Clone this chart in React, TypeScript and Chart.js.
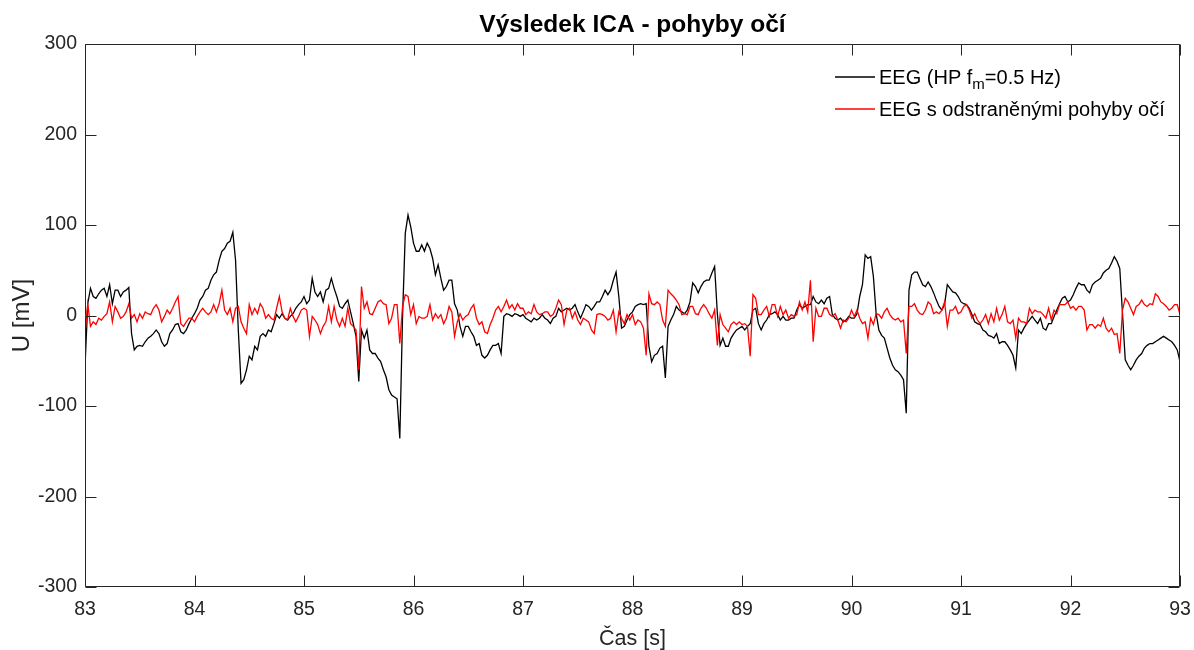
import React, { useEffect, useRef } from "react";
import { Chart, registerables } from "chart.js";

Chart.register(...registerables);

// ---- data ----
const TITLE = "Výsledek ICA - pohyby očí";
const X_LABEL = "Čas [s]";
const Y_LABEL = "U [mV]";
const T_START = 83;
const T_STEP = 0.025;
const X_TICKS = [83, 84, 85, 86, 87, 88, 89, 90, 91, 92, 93];
const Y_TICKS = [-300, -200, -100, 0, 100, 200, 300];

// EEG (HP fm = 0.5 Hz), one row per second, sampled every 25 ms
const eegRaw = [
  -57, 13, 30, 21, 19, 24, 28, 30, 21, 34, 13, 28, 28, 21, 26, 28, 31, -20, -38, -34, -33, -34, -29, -25, -23, -20, -16, -20, -29, -34, -31, -20, -16, -10, -9, -18, -20, -16, -9, -3,
  2, 8, 17, 21, 28, 30, 39, 45, 48, 61, 71, 74, 80, 82, 92, 61, -16, -75, -71, -60, -45, -49, -34, -38, -23, -20, -23, -16, -18, -9, 1, -3, 2, -3, -5, -1, 2, 8, 12, 15,
  21, 13, 17, 41, 26, 21, 26, 15, 28, 30, 41, 30, 21, 10, 8, 13, 17, 4, -9, -23, -73, -16, -25, -16, -38, -42, -42, -47, -51, -60, -68, -82, -88, -90, -92, -136, -1, 91, 111, 98,
  80, 71, 71, 78, 71, 80, 74, 63, 45, 56, 41, 28, 32, 39, 39, 13, 6, -12, -23, -12, -12, -18, -23, -33, -31, -44, -47, -44, -38, -33, -33, -31, -42, -1, 2, 1, -1, 2, 1, -1,
  1, -3, -5, -7, -3, -5, -3, 1, -3, -5, -9, -3, -1, 8, 4, 6, 8, 6, 8, 12, 4, -3, 4, 12, 10, 6, 10, 15, 15, 21, 28, 23, 28, 39, 48, 21, -14, -12, -5, 1,
  4, 10, 12, 13, 12, 13, -34, -51, -44, -42, -36, -34, -69, -12, -5, 1, 10, 6, 4, 2, 6, 15, 36, 32, 25, 32, 37, 39, 39, 47, 54, 2, -33, -25, -34, -34, -25, -20, -16, -14,
  -12, -16, -12, -9, 6, 8, -9, -16, -9, -5, 1, 2, 4, 1, -5, -1, -5, -5, -3, -3, 6, 12, 8, 10, 12, 12, 21, 15, 13, 17, 13, 19, 21, 1, -3, -5, -3, -7, -5, -1,
  -3, -3, 2, 21, 34, 67, 63, 65, 43, 2, -16, -22, -25, -36, -47, -55, -60, -62, -66, -71, -108, 28, 45, 48, 48, 41, 34, 32, 37, 32, 25, 17, 10, 6, 12, 34, 30, 26, 25, 21,
  15, 13, 12, 8, 1, -7, -9, -10, -16, -18, -22, -23, -25, -20, -31, -29, -29, -33, -38, -44, -58, -16, -20, -14, -9, -5, -1, -5, -9, -3, -14, -16, -9, -9, -1, 6, 13, 19, 21, 15,
  17, 23, 30, 36, 34, 34, 28, 25, 34, 37, 39, 41, 47, 50, 52, 58, 65, 60, 52, 2, -49, -55, -60, -55, -49, -45, -42, -36, -33, -31, -31, -29, -27, -25, -23, -25, -27, -29, -33, -38,
  -51,
];

// EEG with eye movements removed
const eegClean = [
  -20, 13, -12, -7, -10, -3, -5, -1, 2, 15, -7, 10, 4, -3, -1, 4, 13, -3, 1, -7, 2, -3, 4, 2, 1, 8, 12, 6, -7, -1, 6, 2, 8, 15, 21, -9, -12, -7, -3, -3,
  -7, -1, 4, 8, 4, 1, 4, 12, 4, 13, 28, 6, 1, 8, -7, 8, 10, -7, -14, -20, 12, 1, 8, 2, 13, 8, -3, 1, -3, -5, 8, 21, 4, -3, -5, 8, -1, -7, -1, 6,
  8, 6, -23, -1, -5, -10, -20, -12, -7, 10, -7, 10, -5, -12, -3, -12, 8, -9, -12, -16, -60, 32, 8, 15, 2, 1, 8, 15, 17, 13, 12, -9, -3, 12, 12, -31, 10, 23, 21, 1,
  12, -9, -1, -3, -3, -1, 12, -5, 2, -3, 1, -9, -3, 10, 4, -23, -7, 2, -5, -1, 1, 8, 12, -3, -10, -7, -18, -20, -10, -3, 6, 10, 4, 10, 17, 8, 12, 6, 13, 8,
  8, 1, 4, 2, 12, 4, 1, 2, 4, 4, -1, 1, 8, 17, 12, -10, 6, 8, -3, 4, -5, -10, -3, -5, -7, -16, -20, 1, 2, 1, -1, -5, -3, 6, -18, 4, -3, -9, 1, -5,
  1, -10, -5, -7, -14, -44, 24, 13, 12, 15, 12, -5, -12, 28, 24, 21, 17, 12, 1, 2, 1, 10, 10, 2, 1, 8, 12, 8, 2, -3, 6, -33, 1, -10, -14, -18, -10, -7, -10, -7,
  -10, -9, -12, -45, 23, 19, 1, 1, 6, 10, -1, 12, 12, -1, 10, 1, 6, -3, 1, -1, 1, 15, 6, 15, 4, 39, -29, 8, -1, -1, 8, 8, 1, -1, 2, -5, -14, -5, -7, -3,
  6, -1, 6, -3, -9, -7, -25, -3, -10, 2, 1, -3, 4, 8, 1, -3, -5, -3, -7, -5, -42, 10, 10, 13, 6, 2, 1, 6, 15, 12, 2, 4, 2, 6, 15, -12, 6, 6, 10, 2,
  4, 10, 12, 6, -3, 2, -5, -9, -5, 1, -9, 2, -7, 8, -5, 1, 10, -7, -9, -5, -25, -3, -7, -7, -9, 8, 2, 6, 4, 4, 1, -3, 8, -5, 6, 2, 12, 12, 12, 15,
  8, 10, 6, 10, 10, 6, -16, -10, -10, -14, -10, -12, -3, -14, -18, -14, -21, -20, -42, 6, 19, 15, 8, 1, 10, 12, 17, 12, 10, 13, 12, 24, 21, 15, 13, 10, 6, 8, 12, 12,
  1,
];

// legend entries: [text, isSubscript] parts
const LEGEND_RAW = [["EEG (HP f", false], ["m", true], ["=0.5 Hz)", false]];
const LEGEND_CLEAN = [["EEG s odstraněnými pohyby očí", false]];

const FONT = "'Liberation Sans', Arial, Helvetica, sans-serif";
const AXIS_COLOR = "#262626";

const toPoints = (vals: number[]) =>
  vals.map((v, i) => ({ x: +(T_START + i * T_STEP).toFixed(3), y: v }));

const matlabAxes = {
  id: "matlabAxes",
  afterDatasetsDraw(chart: any) {
    const { ctx, chartArea: a, scales } = chart;
    const xs = scales.x;
    const ys = scales.y;
    const L = Math.round(a.left) + 0.5;
    const R = Math.round(a.right) - 0.5;
    const T = Math.round(a.top) + 0.5;
    const B = Math.round(a.bottom) - 0.5;
    const tl = 11;
    ctx.save();
    ctx.strokeStyle = AXIS_COLOR;
    ctx.lineWidth = 1;
    ctx.beginPath();
    ctx.moveTo(L, T);
    ctx.lineTo(R, T);
    ctx.lineTo(R, B);
    ctx.lineTo(L, B);
    ctx.closePath();
    X_TICKS.forEach((v) => {
      const p = Math.round(xs.getPixelForValue(v)) + 0.5;
      ctx.moveTo(p, B);
      ctx.lineTo(p, B - tl);
      ctx.moveTo(p, T);
      ctx.lineTo(p, T + tl);
    });
    Y_TICKS.forEach((v) => {
      const p = Math.round(ys.getPixelForValue(v)) + 0.5;
      ctx.moveTo(L, p);
      ctx.lineTo(L + tl, p);
      ctx.moveTo(R, p);
      ctx.lineTo(R - tl, p);
    });
    ctx.stroke();
    ctx.restore();
  },
  afterDraw(chart: any) {
    const { ctx, chartArea: a } = chart;
    ctx.save();
    // title centred over the axes box
    ctx.fillStyle = "#000";
    ctx.textAlign = "center";
    ctx.textBaseline = "alphabetic";
    ctx.font = `bold 24.5px ${FONT}`;
    ctx.fillText(TITLE, (a.left + a.right) / 2, a.top - 12.3);

    // legend
    const rows = [
      { parts: LEGEND_RAW, color: chart.data.datasets[1].borderColor, base: a.top + 39.5 },
      { parts: LEGEND_CLEAN, color: chart.data.datasets[0].borderColor, base: a.top + 71.5 },
    ];
    const x0 = a.right - 345;
    const x1 = x0 + 40;
    rows.forEach((r) => {
      ctx.strokeStyle = r.color;
      ctx.lineWidth = 1.3;
      ctx.beginPath();
      ctx.moveTo(x0, r.base - 6.5);
      ctx.lineTo(x1, r.base - 6.5);
      ctx.stroke();
      let x = x1 + 4;
      ctx.fillStyle = "#000";
      ctx.textBaseline = "alphabetic";
      ctx.textAlign = "left";
      (r.parts as any[]).forEach(([txt, sub]) => {
        ctx.font = sub ? `15px ${FONT}` : `20px ${FONT}`;
        ctx.fillText(txt, x, sub ? r.base + 5 : r.base);
        x += ctx.measureText(txt).width;
      });
    });
    ctx.restore();
  },
};

export default function App() {
  const ref = useRef<HTMLCanvasElement | null>(null);
  useEffect(() => {
    if (!ref.current) return;
    const chart = new Chart(ref.current, {
      type: "line",
      data: {
        datasets: [
          {
            label: "EEG s odstraněnými pohyby očí",
            data: toPoints(eegClean),
            borderColor: "#ff0000",
            borderWidth: 1.3,
            pointRadius: 0,
            tension: 0,
            order: 0,
          },
          {
            label: "EEG (HP fm=0.5 Hz)",
            data: toPoints(eegRaw),
            borderColor: "#000000",
            borderWidth: 1.3,
            pointRadius: 0,
            tension: 0,
            order: 1,
          },
        ],
      },
      options: {
        animation: false,
        responsive: false,
        devicePixelRatio: 1,
        layout: { padding: { left: 0, right: 14, top: 44, bottom: 0 } },
        plugins: {
          legend: { display: false },
          tooltip: { enabled: false },
          title: { display: false },
        },
        scales: {
          x: {
            type: "linear",
            min: 83,
            max: 93,
            afterBuildTicks: (s: any) => {
              s.ticks = X_TICKS.map((v) => ({ value: v }));
            },
            afterFit: (s: any) => {
              s.height = 63;
              s.paddingLeft = 0;
              s.paddingRight = 0;
            },
            grid: { display: false, drawTicks: false },
            border: { display: false },
            ticks: {
              color: AXIS_COLOR,
              font: { family: FONT, size: 19.5 },
              padding: 11,
              maxRotation: 0,
              autoSkip: false,
            },
            title: {
              display: true,
              text: X_LABEL,
              color: AXIS_COLOR,
              font: { family: FONT, size: 21.5 },
              padding: { top: 0, bottom: -1.5 },
            },
          },
          y: {
            type: "linear",
            min: -300,
            max: 300,
            afterBuildTicks: (s: any) => {
              s.ticks = Y_TICKS.map((v) => ({ value: v }));
            },
            afterFit: (s: any) => {
              s.width = 85;
              s.paddingTop = 0;
              s.paddingBottom = 0;
            },
            grid: { display: false, drawTicks: false },
            border: { display: false },
            ticks: {
              color: AXIS_COLOR,
              font: { family: FONT, size: 19.5 },
              padding: 8,
              autoSkip: false,
            },
            title: {
              display: true,
              text: Y_LABEL,
              color: AXIS_COLOR,
              font: { family: FONT, size: 24 },
              padding: { top: 8, bottom: 0 },
            },
          },
        },
      },
      plugins: [matlabAxes],
    } as any);
    return () => chart.destroy();
  }, []);
  return (
    <div style={{ position: "fixed", left: 0, top: 0, width: 1194, height: 650, background: "#fff" }}>
      <canvas ref={ref} width={1194} height={650} />
    </div>
  );
}
